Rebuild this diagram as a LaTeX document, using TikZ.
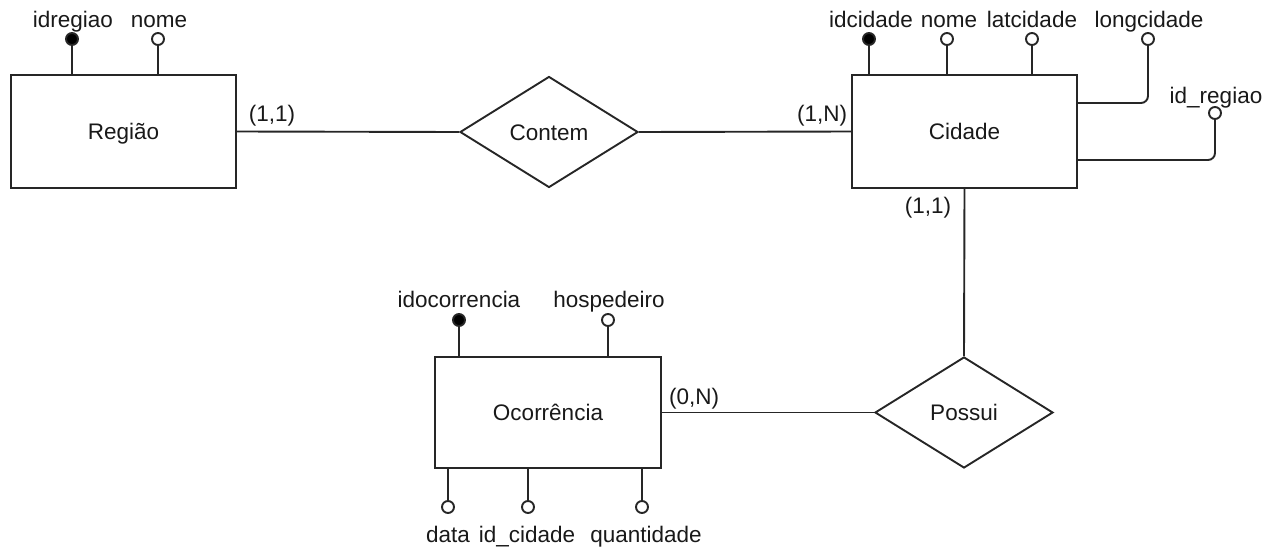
\documentclass[tikz,border=0pt]{standalone}
\usepackage{fontspec}
\setmainfont{Liberation Sans}
\usetikzlibrary{shapes.geometric}
\begin{document}
\begin{tikzpicture}[x=1pt,y=-1pt,
  every node/.style={font=\fontsize{22.5}{26}\selectfont, text=black!90},
  ln/.style={draw=black!85, line width=1.9pt},
  entity/.style={ln, rectangle, inner sep=0pt, text height=16pt, text depth=0pt},
  rel/.style={ln, diamond, inner sep=0pt, minimum width=178pt, minimum height=111pt, text height=16pt, text depth=0pt},
  keyattr/.style={ln, circle, fill=black, minimum size=12pt, inner sep=0pt},
  attr/.style={ln, circle, fill=white, minimum size=12pt, inner sep=0pt},
  lbl/.style={anchor=base, inner sep=0pt},
  conn/.style={draw=black!85, line width=1.9pt}
]
\useasboundingbox (0,0) rectangle (1280,549);

% entities
\node[entity, minimum width=225pt, minimum height=113pt] (regiao) at (123.5,131.5) {Região};
\node[entity, minimum width=225pt, minimum height=113pt] (cidade) at (964.5,131.5) {Cidade};
\node[entity, minimum width=226pt, minimum height=111pt] (ocorr) at (548,412.5) {Ocorrência};

% relationships
\node[rel] (contem) at (549,132) {Contem};
\node[rel] (possui) at (964,412.5) {Possui};

% relationship links
\draw[conn] (regiao.east) -- (contem.west);
\draw[conn] (contem.east) -- (cidade.west);
\draw[conn] (cidade.south) -- (possui.north);
\draw[conn] (ocorr.east) -- (possui.west);

% cardinalities
\node[lbl] (c1) at (272,121) {(1,1)};
\node[lbl] (c2) at (822,121) {(1,N)};
\node[lbl] (c3) at (928,213) {(1,1)};
\node[lbl] (c4) at (694,404) {(0,N)};

% Regiao attributes
\node[keyattr] (a1) at (72,39) {};
\node[attr] (a2) at (158,39) {};
\draw[conn] (a1.south) -- (a1.south |- regiao.north);
\draw[conn] (a2.south) -- (a2.south |- regiao.north);
\node[lbl] (l1) at (73,27) {idregiao};
\node[lbl] (l2) at (159,27) {nome};

% Cidade attributes
\node[keyattr] (b1) at (869,39) {};
\node[attr] (b2) at (947,39) {};
\node[attr] (b3) at (1032,39) {};
\node[attr] (b4) at (1148,39) {};
\node[attr] (b5) at (1215,113) {};
\draw[conn] (b1.south) -- (b1.south |- cidade.north);
\draw[conn] (b2.south) -- (b2.south |- cidade.north);
\draw[conn] (b3.south) -- (b3.south |- cidade.north);
\coordinate (b4t) at (cidade.east |- 0,103);
\coordinate (b5t) at (cidade.east |- 0,160);
\draw[conn, rounded corners=7pt] (b4.south) |- (b4t);
\draw[conn, rounded corners=7pt] (b5.south) |- (b5t);
\node[lbl] (m1) at (871,27) {idcidade};
\node[lbl] (m2) at (949,27) {nome};
\node[lbl] (m3) at (1032,27) {latcidade};
\node[lbl] (m4) at (1149,27) {longcidade};
\node[lbl] (m5) at (1216,103) {id\_regiao};

% Ocorrencia attributes
\node[keyattr] (o1) at (459,320) {};
\node[attr] (o2) at (608,320) {};
\node[attr] (o3) at (448,507) {};
\node[attr] (o4) at (528,507) {};
\node[attr] (o5) at (642,507) {};
\draw[conn] (o1.south) -- (o1.south |- ocorr.north);
\draw[conn] (o2.south) -- (o2.south |- ocorr.north);
\draw[conn] (o3.north) -- (o3.north |- ocorr.south);
\draw[conn] (o4.north) -- (o4.north |- ocorr.south);
\draw[conn] (o5.north) -- (o5.north |- ocorr.south);
\node[lbl] (n1) at (459,307) {idocorrencia};
\node[lbl] (n2) at (609,307) {hospedeiro};
\node[lbl] (n3) at (448,542) {data};
\node[lbl] (n4) at (527,542) {id\_cidade};
\node[lbl] (n5) at (646,542) {quantidade};
\end{tikzpicture}
\end{document}
